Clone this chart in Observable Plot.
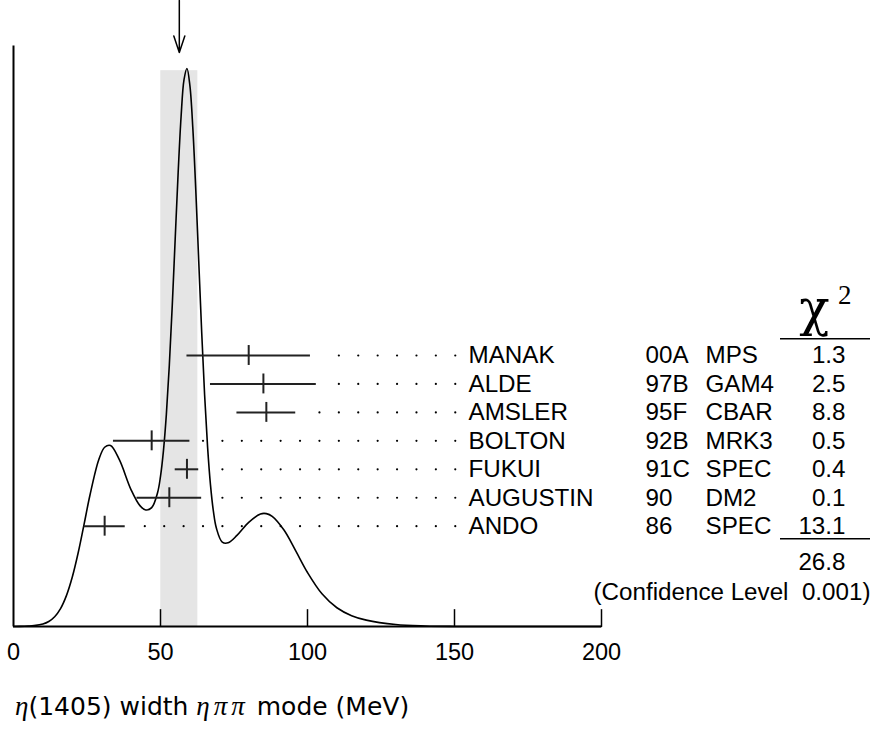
<!DOCTYPE html>
<html>
<head>
<meta charset="utf-8">
<script src="https://cdn.jsdelivr.net/npm/d3@7"></script>
<script src="https://cdn.jsdelivr.net/npm/@observablehq/plot@0.6"></script>
<style>
  html, body { margin: 0; padding: 0; background: #fff; }
  #wrap { position: relative; width: 872px; height: 731px; overflow: hidden; }
  #wrap svg { position: absolute; left: 0; top: 0; background: transparent !important; }
  #caption { position: absolute; left: 15px; top: 691px; font-family: "DejaVu Sans", sans-serif; font-size: 25px; line-height: 30px; color: #000; white-space: nowrap; }
  #caption i { font-family: "Liberation Serif", serif; font-style: italic; font-size: 27px; }
  #caption .pp { letter-spacing: 4px; }
</style>
</head>
<body>
<div id="wrap"><div id="caption"><i>η</i>(1405) width <i class="pp">ηππ</i> mode (MeV)</div></div>
<script>
// ---- data ----
const names = ["MANAK", "ALDE", "AMSLER", "BOLTON", "FUKUI", "AUGUSTIN", "ANDO"];
const years = ["00A", "97B", "95F", "92B", "91C", "90", "86"];
const experiments = ["MPS", "GAM4", "CBAR", "MRK3", "SPEC", "DM2", "SPEC"];
const values = [80, 85, 86, 47, 59, 53, 31];
const errors = [21, 18, 10, 13, 4, 11, 7];
const chi2 = ["1.3", "2.5", "8.8", "0.5", "0.4", "0.1", "13.1"];
const chi2Total = "26.8";
const confidenceLevel = "0.001";
const mean = 56.4;
const meanError = 6.3;
const xTicks = [0, 50, 100, 150, 200];
// ideogram curve (arbitrary units)
const ideogramX = [0, 2, 5, 7, 10, 12, 14, 16, 18, 20, 22, 24, 26, 29, 31, 33, 36, 40, 43, 45, 47, 49, 50, 51, 52, 53, 54, 55, 56, 57, 58, 59, 60, 61, 62, 63, 64, 65, 66, 67, 68, 69, 71, 73, 76, 80, 84, 86, 88, 92, 96, 100, 105, 110, 115, 120, 130, 140, 150, 160, 200];
const ideogramY = [0.01, 0.02, 0.06, 0.12, 0.34, 0.69, 1.34, 2.45, 4.22, 6.76, 10.07, 13.95, 17.92, 22.77, 24.48, 24.72, 22.78, 18.67, 16.51, 15.92, 16.23, 18.27, 20.51, 23.99, 29.01, 35.69, 43.86, 52.96, 61.96, 69.63, 74.69, 76.22, 73.87, 68.03, 59.63, 49.95, 40.29, 31.65, 24.60, 19.34, 15.72, 13.44, 11.53, 11.43, 12.44, 14.23, 15.37, 15.42, 15.05, 13.17, 10.33, 7.38, 4.43, 2.56, 1.48, 0.87, 0.27, 0.07, 0.01, 0.0, 0.0];

// ---- derived tables ----
const curve = ideogramX.map((x, i) => ({x, y: ideogramY[i]}));
const peak = d3.max(ideogramY);
const rows = names.map((name, i) => ({
  i, name, year: years[i], experiment: experiments[i],
  value: values[i], lo: values[i] - errors[i], hi: values[i] + errors[i], chi2: chi2[i]
}));
// leader-dot grid (layout)
const dotGrid = d3.range(17).map(k => 44.66 + 6.6 * k);
const leaders = rows.flatMap(r => dotGrid.filter(x => x > r.hi + 3.7).map(x => ({x, i: r.i})));

const W = 872, H = 670, ML = 13, MR = 271, MB = 44;
const yTop = 85.5;
const sans = "Liberation Sans, Arial, Helvetica, sans-serif";
const serif = "DejaVu Serif, Liberation Serif, serif";
const fs = 24.2;

const plotA = Plot.plot({
  width: W, height: H, marginLeft: ML, marginRight: MR, marginTop: 0, marginBottom: MB,
  style: {background: "transparent", fontFamily: sans},
  x: {domain: [0, 200], axis: null},
  y: {domain: [0, yTop], axis: null},
  marks: [
    Plot.rect([{x1: mean - meanError, x2: mean + meanError}], {x1: "x1", x2: "x2", y1: 0, y2: peak * 0.996, fill: "#e5e5e5"}),
    Plot.line(curve, {x: "x", y: "y", curve: "catmull-rom", stroke: "#000", strokeWidth: 1.6}),
    Plot.ruleY([0], {stroke: "#000", strokeWidth: 2}),
    Plot.ruleX([0], {y1: 0, y2: 79.3, stroke: "#000", strokeWidth: 2}),
    Plot.ruleX(xTicks.slice(1), {y1: 0, y2: 2.3, stroke: "#000", strokeWidth: 1.5}),
    Plot.text(xTicks, {x: d => d, y: 0, dy: 26, text: d => String(d), fontSize: 23.5, fill: "#000"}),
    Plot.arrow([mean], {x1: d => d, x2: d => d, y1: yTop, y2: 78.4, headLength: 21, headAngle: 37, stroke: "#000", strokeWidth: 1.5})
  ]
});

const plotB = Plot.plot({
  width: W, height: H, marginLeft: ML, marginRight: MR, marginTop: 0, marginBottom: MB,
  style: {background: "transparent", fontFamily: sans, overflow: "visible"},
  x: {domain: [0, 200], axis: null},
  y: {domain: [0, 6], range: [355, 525.7], axis: null},
  marks: [
    Plot.ruleY(rows, {y: "i", x1: "lo", x2: "hi", stroke: "#222", strokeWidth: 2}),
    Plot.ruleX(rows, {x: "value", y1: d => d.i - 0.35, y2: d => d.i + 0.35, stroke: "#222", strokeWidth: 2}),
    Plot.dot(leaders, {x: "x", y: "i", r: 1.1, fill: "#000", stroke: null}),
    Plot.text(rows, {y: "i", text: "name", frameAnchor: "right", dx: -133, textAnchor: "start", fontSize: fs, fill: "#000"}),
    Plot.text(rows, {y: "i", text: "year", frameAnchor: "right", dx: 44, textAnchor: "start", fontSize: fs, fill: "#000"}),
    Plot.text(rows, {y: "i", text: "experiment", frameAnchor: "right", dx: 104, textAnchor: "start", fontSize: fs, fill: "#000"}),
    Plot.text(rows, {y: "i", text: "chi2", frameAnchor: "right", dx: 244, textAnchor: "end", fontSize: fs, fill: "#000"}),
    Plot.text(["χ"], {y: -1.62, frameAnchor: "right", dx: 228, text: d => d, fontFamily: serif, fontSize: 50, fill: "#000"}),
    Plot.text(["2"], {y: -2.13, frameAnchor: "right", dx: 250, text: d => d, fontFamily: "Liberation Serif, serif", fontSize: 27, fill: "#000"}),
    Plot.ruleY([-0.587], {insetLeft: 767, insetRight: -269, stroke: "#000", strokeWidth: 1.5}),
    Plot.ruleY([6.443], {insetLeft: 767, insetRight: -269, stroke: "#000", strokeWidth: 1.5}),
    Plot.text([chi2Total], {y: 7.265, frameAnchor: "right", dx: 244, textAnchor: "end", text: d => d, fontSize: fs, fill: "#000"}),
    Plot.text([`(Confidence Level\u00a0\u00a0${confidenceLevel})`], {y: 8.32, frameAnchor: "right", dx: 269, textAnchor: "end", text: d => d, fontSize: fs, fill: "#000"})
  ]
});

const wrap = document.getElementById("wrap");
wrap.insertBefore(plotB, wrap.firstChild);
wrap.insertBefore(plotA, wrap.firstChild);
</script>
</body>
</html>
